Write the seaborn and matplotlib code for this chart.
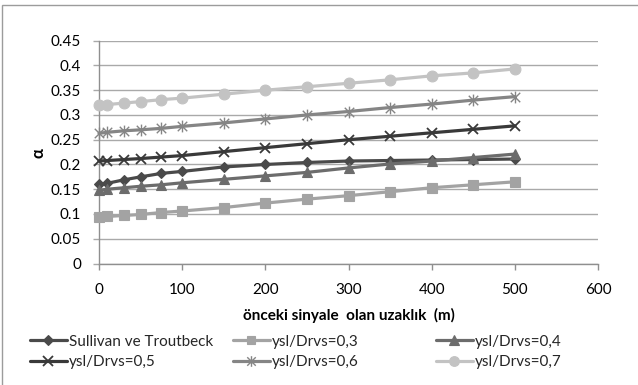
import matplotlib
matplotlib.use("Agg")
import matplotlib.pyplot as plt
import seaborn as sns
import numpy as np
import pandas as pd
from matplotlib.lines import Line2D
from matplotlib.path import Path
from matplotlib.patches import Rectangle

# ---------------- data ----------------
distance = [0, 10, 30, 50, 75, 100, 150, 200, 250, 300, 350, 400, 450, 500]
sullivan = [0.160, 0.162, 0.169, 0.175, 0.182, 0.186, 0.195, 0.200, 0.204, 0.207, 0.208, 0.209, 0.210, 0.211]
ysl_03 = [0.093, 0.095, 0.097, 0.099, 0.103, 0.106, 0.113, 0.122, 0.130, 0.137, 0.145, 0.153, 0.159, 0.165]
ysl_04 = [0.148, 0.150, 0.153, 0.156, 0.159, 0.163, 0.170, 0.177, 0.184, 0.193, 0.201, 0.207, 0.214, 0.221]
ysl_05 = [0.207, 0.208, 0.210, 0.212, 0.215, 0.218, 0.226, 0.234, 0.242, 0.250, 0.257, 0.264, 0.271, 0.278]
ysl_06 = [0.263, 0.265, 0.268, 0.270, 0.273, 0.277, 0.284, 0.292, 0.300, 0.307, 0.315, 0.322, 0.330, 0.337]
ysl_07 = [0.320, 0.321, 0.324, 0.327, 0.331, 0.334, 0.342, 0.350, 0.357, 0.364, 0.371, 0.379, 0.385, 0.393]

series_names = ["Sullivan ve Troutbeck", "ysl/Drvs=0,3", "ysl/Drvs=0,4",
                "ysl/Drvs=0,5", "ysl/Drvs=0,6", "ysl/Drvs=0,7"]
series_values = [sullivan, ysl_03, ysl_04, ysl_05, ysl_06, ysl_07]

x_ticks = [0, 100, 200, 300, 400, 500, 600]
x_tick_labels = ["0", "100", "200", "300", "400", "500", "600"]
y_ticks = [0, 0.05, 0.1, 0.15, 0.2, 0.25, 0.3, 0.35, 0.4, 0.45]
y_tick_labels = ["0", "0.05", "0.1", "0.15", "0.2", "0.25", "0.3", "0.35", "0.4", "0.45"]
x_label = "önceki sinyale  olan uzaklık  (m)"
y_label = "α"

# ---------------- style ----------------
sns.set_theme(style="white")
plt.rcParams["font.family"] = ["Lato", "DejaVu Sans"]
FS = 11

asterisk = Path([(0, -1), (0, 1), (-0.8, -0.8), (0.8, 0.8), (-0.8, 0.8), (0.8, -0.8)],
                [Path.MOVETO, Path.LINETO, Path.MOVETO, Path.LINETO, Path.MOVETO, Path.LINETO])

styles = [
    dict(color="#4a4a4a", marker="D", markersize=5.5, mew=0.8),
    dict(color="#a3a3a3", marker="s", markersize=6.8, mew=0.8),
    dict(color="#6c6c6c", marker="^", markersize=7.5, mew=0.8),
    dict(color="#393939", marker="x", markersize=7.5, mew=1.3),
    dict(color="#858585", marker=asterisk, markersize=8.5, mew=1.0),
    dict(color="#c3c3c3", marker="o", markersize=7.8, mew=0.8),
]

W, H = 638, 385
fig = plt.figure(figsize=(W / 100, H / 100), dpi=100)
x0, x1, ytop, ybot = 99, 598, 40.7, 263.5
ax = fig.add_axes([x0 / W, 1 - ybot / H, (x1 - x0) / W, (ybot - ytop) / H])

df = pd.DataFrame({"distance": distance})
handles = []
for name, vals, st in zip(series_names, series_values, styles):
    df[name] = vals
    sns.lineplot(data=df, x="distance", y=name, ax=ax, color=st["color"], linewidth=2.3,
                 marker=st["marker"], markersize=st["markersize"],
                 markeredgecolor=st["color"], markerfacecolor=st["color"],
                 markeredgewidth=st["mew"], clip_on=False, zorder=3)
    handles.append(Line2D([], [], color=st["color"], linewidth=2.3, marker=st["marker"],
                          markersize=st["markersize"] * 0.9, markeredgecolor=st["color"],
                          markerfacecolor=st["color"], markeredgewidth=st["mew"]))

ax.set_xlim(0, 600)
ax.set_ylim(0, 0.45)
ax.set_xticks(x_ticks)
ax.set_xticklabels(x_tick_labels)
ax.set_yticks(y_ticks)
ax.set_yticklabels(y_tick_labels)
ax.grid(axis="y", color="#a9a9a9", linewidth=1.0)
ax.grid(axis="x", visible=False)
ax.set_axisbelow(True)
for s in ["top", "right"]:
    ax.spines[s].set_visible(False)
for s in ["left", "bottom"]:
    ax.spines[s].set_color("#8f8f8f")
    ax.spines[s].set_linewidth(1.0)
ax.tick_params(axis="x", direction="out", length=4, width=1, color="#8f8f8f",
               pad=10, labelsize=FS, labelcolor="black", bottom=True)
ax.tick_params(axis="y", direction="out", length=4, width=1, color="#a9a9a9",
               pad=9, labelsize=FS, labelcolor="black", left=True)

ax.set_xlabel(x_label, fontsize=FS, fontweight="bold", color="black")
ax.xaxis.label.set_va("center")
ax.xaxis.set_label_coords(0.5, (ybot - 315) / (ybot - ytop))
ax.set_ylabel(y_label, fontsize=FS + 1, fontweight="bold", color="black", rotation=90)
ax.yaxis.label.set_va("center")
ax.yaxis.set_label_coords((39 - x0) / (x1 - x0), (ybot - 153) / (ybot - ytop))

# legend: three columns, two rows each
col_x = [30, 233, 436]
for i, cx in enumerate(col_x):
    fig.legend([handles[i], handles[i + 3]], [series_names[i], series_names[i + 3]],
               loc="center left", bbox_to_anchor=(cx / W, 1 - 352 / H),
               frameon=False, fontsize=FS, handlelength=2.4, handletextpad=0.15,
               labelspacing=0.45, borderpad=0, borderaxespad=0)

# outer chart-area border
fig.patches.append(Rectangle((2.5 / W, -0.05), 1.1, (1 - 4.5 / H) + 0.05,
                             transform=fig.transFigure, fill=False,
                             edgecolor="#9c9c9c", linewidth=1.0))

fig.savefig("out.png", dpi=100)
